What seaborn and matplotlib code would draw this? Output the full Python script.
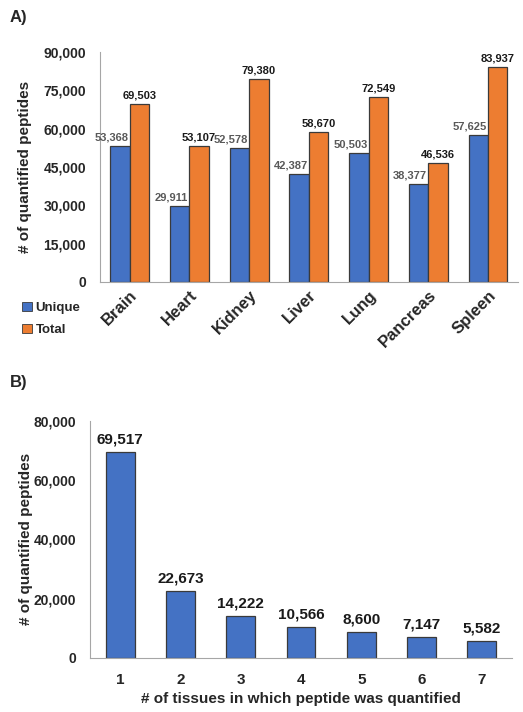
import matplotlib
matplotlib.use("Agg")
import matplotlib.pyplot as plt
from matplotlib.ticker import FuncFormatter
from matplotlib.patches import Patch
import seaborn as sns
import pandas as pd

# Panel A data
tissues = ["Brain", "Heart", "Kidney", "Liver", "Lung", "Pancreas", "Spleen"]
unique_counts = [53368, 29911, 52578, 42387, 50503, 38377, 57625]
total_counts = [69503, 53107, 79380, 58670, 72549, 46536, 83937]

# Panel B data
n_tissues = ["1", "2", "3", "4", "5", "6", "7"]
shared_counts = [69517, 22673, 14222, 10566, 8600, 7147, 5582]

blue = "#4472C4"
orange = "#ED7D31"

sns.set_style("white")
plt.rcParams['font.family'] = ['Liberation Sans', 'DejaVu Sans']
plt.rcParams['font.weight'] = 'bold'

fig = plt.figure(figsize=(5.23, 7.12), dpi=100)
ax1 = fig.add_axes([0.191, 0.604, 0.799, 0.323])
ax2 = fig.add_axes([0.172, 0.076, 0.807, 0.333])

comma = FuncFormatter(lambda v, p: f"{int(v):,}")

# ---------------- Panel A ----------------
df_a = pd.DataFrame({
    "tissue": tissues * 2,
    "count": unique_counts + total_counts,
    "kind": ["Unique"] * len(tissues) + ["Total"] * len(tissues),
})
sns.barplot(data=df_a, x="tissue", y="count", hue="kind", order=tissues,
            palette={"Unique": blue, "Total": orange}, width=0.65,
            saturation=1, edgecolor="#3a3a3a", linewidth=0.9, ax=ax1,
            legend=False)

for cont, col, dx in zip(ax1.containers, ["#595959", "#1a1a1a"], [-6, 0]):
    for bar in cont:
        h = bar.get_height()
        ax1.annotate(f"{int(h):,}", (bar.get_x() + bar.get_width() / 2, h),
                     xytext=(dx, 2.5), textcoords="offset points",
                     ha="center", va="bottom", fontsize=8, fontweight="bold",
                     color=col)

ax1.set_xlim(-0.5, 6.5)
ax1.set_ylim(0, 90000)
ax1.set_yticks(range(0, 90001, 15000))
ax1.yaxis.set_major_formatter(comma)
ax1.set_xlabel("")
ax1.set_ylabel("# of quantified peptides", fontsize=11, fontweight="bold", labelpad=8)
ax1.tick_params(axis="y", labelsize=10, length=0, pad=10)
ax1.tick_params(axis="x", length=0, pad=4)
for lab in ax1.get_xticklabels():
    lab.set_rotation(45)
    lab.set_ha("right")
    lab.set_rotation_mode("anchor")
    lab.set_fontsize(12)
    lab.set_fontweight("bold")
for lab in ax1.get_yticklabels():
    lab.set_fontweight("bold")
sns.despine(ax=ax1)
ax1.spines["left"].set_color("#a6a6a6")
ax1.spines["bottom"].set_color("#a6a6a6")

handles = [Patch(facecolor=blue, edgecolor="#3a3a3a", linewidth=0.6),
           Patch(facecolor=orange, edgecolor="#3a3a3a", linewidth=0.6)]
fig.legend(handles, ["Unique", "Total"], loc="upper left",
           bbox_to_anchor=(0.03, 0.585), frameon=False, fontsize=9.5,
           handlelength=0.7, handleheight=0.7, handletextpad=0.3,
           labelspacing=0.7, borderpad=0)

fig.text(0.018, 0.975, "A)", fontsize=12, fontweight="bold", va="center")

# ---------------- Panel B ----------------
df_b = pd.DataFrame({"n": n_tissues, "count": shared_counts})
sns.barplot(data=df_b, x="n", y="count", color=blue, width=0.48,
            saturation=1, edgecolor="#3a3a3a", linewidth=0.9, ax=ax2)

for bar in ax2.containers[0]:
    h = bar.get_height()
    ax2.annotate(f"{int(h):,}", (bar.get_x() + bar.get_width() / 2, h),
                 xytext=(0, 4), textcoords="offset points",
                 ha="center", va="bottom", fontsize=11, fontweight="bold",
                 color="#1a1a1a")

ax2.set_xlim(-0.5, 6.5)
ax2.set_ylim(0, 80000)
ax2.set_yticks(range(0, 80001, 20000))
ax2.yaxis.set_major_formatter(comma)
ax2.set_xlabel("# of tissues in which peptide was quantified", fontsize=11,
               fontweight="bold", labelpad=3.5)
ax2.set_ylabel("# of quantified peptides", fontsize=11, fontweight="bold", labelpad=0)
ax2.tick_params(axis="y", labelsize=10, length=0, pad=10)
ax2.tick_params(axis="x", labelsize=11, length=0, pad=11)
for lab in ax2.get_xticklabels() + ax2.get_yticklabels():
    lab.set_fontweight("bold")
sns.despine(ax=ax2)
ax2.spines["left"].set_color("#a6a6a6")
ax2.spines["bottom"].set_color("#a6a6a6")

fig.text(0.018, 0.463, "B)", fontsize=12, fontweight="bold", va="center")

fig.savefig("out.png", dpi=100)
